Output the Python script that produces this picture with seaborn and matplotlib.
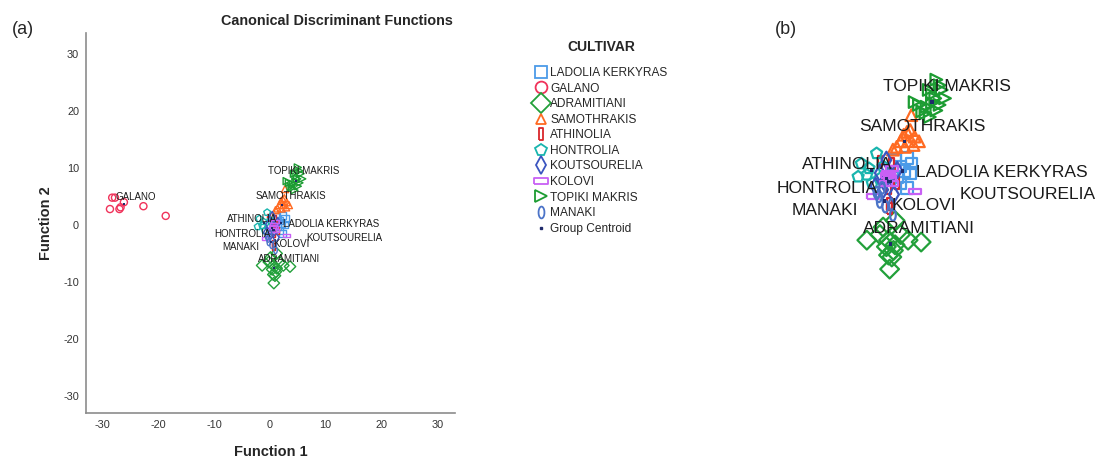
import numpy as np
import matplotlib
matplotlib.use("Agg")
import matplotlib.pyplot as plt
import seaborn as sns
from matplotlib.lines import Line2D

sns.set_style("white")
plt.rcParams['font.family'] = ['Liberation Sans', 'DejaVu Sans']
plt.rcParams['axes.unicode_minus'] = False

# ---- data (Function 1, Function 2) ----
cultivars = ['LADOLIA KERKYRAS', 'GALANO', 'ADRAMITIANI', 'SAMOTHRAKIS', 'ATHINOLIA',
             'HONTROLIA', 'KOUTSOURELIA', 'KOLOVI', 'TOPIKI MAKRIS', 'MANAKI']

ladolia_x = [2.3, 2.7, 1.7, 2.6, 1.35, 1.7, 2.3, 1.2, 2.0]
ladolia_y = [1.7, 1.1, 0.8, 0.1, -0.3, -1.0, -1.5, 1.5, 0.3]
galano_x = [-28.7, -28.3, -27.8, -26.8, -26.2, -27.0, -22.7, -18.7]
galano_y = [2.8, 4.8, 4.8, 3.1, 4.0, 2.8, 3.3, 1.6]
adramitiani_x = [1.2, 0.1, -1.4, 0.6, 2.4, 3.6, 0.4, 1.05, 0.6, 1.2, 0.7, -0.2, 1.7, 0.9]
adramitiani_y = [-5.0, -5.7, -7.1, -7.1, -7.1, -7.3, -7.8, -8.2, -8.7, -7.6, -10.2, -6.5, -6.5, -8.9]
samothrakis_x = [2.7, 2.6, 2.0, 3.0, 1.7, 2.4, 3.4, 1.35, 2.1, 2.9, 1.0, 2.3]
samothrakis_y = [6.3, 4.7, 4.2, 4.0, 3.5, 3.5, 3.5, 2.9, 2.9, 3.1, 2.6, 4.5]
athinolia_x = [0.9, 1.35, 0.6, 0.3, 0.7, 0.7, -0.2, 1.0]
athinolia_y = [1.1, -1.0, -1.5, -0.5, -3.2, -3.7, 1.3, 0.2]
hontrolia_x = [-0.5, -1.9, -2.2, -1.4, -0.9, 0.1, -0.2, -1.2]
hontrolia_y = [2.2, 1.1, -0.3, -0.1, -1.0, 0.8, -0.5, 0.6]
koutsourelia_x = [-0.2, 0.4, 0.1, 1.4, 0.8, 1.1, 0.2, -0.6]
koutsourelia_y = [0.1, 1.5, -1.7, 0.4, -0.2, -2.2, -0.9, -1.3]
kolovi_x = [3.0, -0.8, 0.6, 0.7, 0.4, 0.9, 0.9, 0.5]
kolovi_y = [-1.9, -2.4, 0.1, -0.5, -1.0, 0.6, -1.0, -0.2]
topiki_x = [5.0, 5.3, 4.3, 4.6, 4.9, 5.8, 3.0, 3.4, 4.1, 4.6, 5.3, 5.0, 4.0, 4.4, 5.5, 3.7]
topiki_y = [10.1, 9.5, 9.0, 8.5, 8.1, 8.1, 7.7, 7.4, 7.2, 7.6, 7.4, 6.8, 6.5, 6.1, 9.0, 6.7]
manaki_x = [-0.2, 0.3, 0.9, -0.3, 1.0, 0.0, -0.5]
manaki_y = [-3.0, -3.5, -3.3, -2.4, -4.4, -1.5, -2.0]

xs = [ladolia_x, galano_x, adramitiani_x, samothrakis_x, athinolia_x,
      hontrolia_x, koutsourelia_x, kolovi_x, topiki_x, manaki_x]
ys = [ladolia_y, galano_y, adramitiani_y, samothrakis_y, athinolia_y,
      hontrolia_y, koutsourelia_y, kolovi_y, topiki_y, manaki_y]

centroid_x = [1.9, -26.1, 0.8, 2.1, 0.6, -1.0, 0.4, 0.8, 4.6, 0.2]
centroid_y = [0.3, 3.7, -7.5, 3.5, -0.8, 0.4, -0.5, -0.8, 7.7, -2.9]

# group label positions (text centre)
label_names = ['TOPIKI MAKRIS', 'SAMOTHRAKIS', 'ATHINOLIA', 'LADOLIA KERKYRAS', 'HONTROLIA',
               'KOUTSOURELIA', 'MANAKI', 'KOLOVI', 'ADRAMITIANI', 'GALANO']
label_x = [6.0, 3.7, -3.2, 11.0, -5.0, 13.4, -5.3, 3.9, 3.4, -24.1]
label_y = [9.4, 5.1, 1.05, 0.2, -1.6, -2.2, -3.9, -3.4, -5.9, 4.9]

# ---- styles ----
colors = ['#4C9BE8', '#F0325A', '#22A03A', '#FF6A22', '#D9262B',
          '#19B5AE', '#3B55C0', '#C860F5', '#1C9C32', '#4C74C8']
t = np.linspace(0, 2 * np.pi, 40)
tall_rect = [(-0.4, -1), (0.4, -1), (0.4, 1), (-0.4, 1), (-0.4, -1)]
wide_rect = [(-1, -0.4), (1, -0.4), (1, 0.4), (-1, 0.4), (-1, -0.4)]
ellipse = list(zip(0.5 * np.cos(t), np.sin(t)))
markers = ['s', 'o', 'D', '^', tall_rect, 'p', 'd', wide_rect, '>', ellipse]
size_scale = [1.0, 1.0, 1.3, 1.0, 1.0, 1.0, 1.0, 1.1, 1.0, 1.0]

W, H = 1099, 459
fig = plt.figure(figsize=(W / 100, H / 100), dpi=100)


def draw(ax, base_s, lw, fs, clip):
    for i, name in enumerate(cultivars):
        sns.scatterplot(x=xs[i], y=ys[i], marker=markers[i], s=base_s * size_scale[i],
                        facecolor='none', edgecolor=colors[i], linewidth=lw,
                        ax=ax, legend=False, zorder=2)
    sns.scatterplot(x=centroid_x, y=centroid_y, marker='s', s=base_s * 0.08,
                    color='#1F2A6B', edgecolor='none', ax=ax, legend=False, zorder=3)
    for name, lx, ly in zip(label_names, label_x, label_y):
        ax.text(lx, ly, name, fontsize=fs, ha='center', va='center',
                color='#1A1A1A', zorder=4, clip_on=clip)


# ---- panel (a) ----
ax = fig.add_axes([86 / W, 1 - 413 / H, 369 / W, 380 / H])
draw(ax, 26, 1.0, 7, False)
ax.set_xlim(-33.0, 33.2)
ax.set_ylim(-33.0, 33.7)
ax.set_xticks(range(-30, 31, 10))
ax.set_yticks(range(-30, 31, 10))
ax.tick_params(length=0, labelsize=7.8, colors='#333333', pad=5)
for side in ['top', 'right']:
    ax.spines[side].set_visible(False)
for side in ['left', 'bottom']:
    ax.spines[side].set_color('#8C8C8C')
    ax.spines[side].set_linewidth(1.2)
ax.set_xlabel('Function 1', fontsize=10.5, fontweight='bold', va='center')
ax.set_ylabel('Function 2', fontsize=10.5, fontweight='bold', va='center')
ax.xaxis.set_label_coords(0.5, -0.103)
ax.yaxis.set_label_coords(-0.108, 0.5)

fig.text(337 / W, 1 - 21 / H, 'Canonical Discriminant Functions', fontsize=10.4,
         fontweight='bold', ha='center', va='center')
fig.text(23 / W, 1 - 30 / H, '(a)', fontsize=13, ha='center', va='center')
fig.text(786 / W, 1 - 30 / H, '(b)', fontsize=13, ha='center', va='center')

# ---- legend ----
fig.text(601 / W, 1 - 47 / H, 'CULTIVAR', fontsize=10, fontweight='bold',
         ha='center', va='center')
handles = []
leg_ms = [8.5, 8.5, 10, 7.5, 8.5, 8.5, 9, 9.5, 8.5, 8.5]
for i, name in enumerate(cultivars):
    handles.append(Line2D([], [], marker=markers[i], ls='none', mfc='none',
                          mec=colors[i], mew=1.3, ms=leg_ms[i], label=name))
handles.append(Line2D([], [], marker='s', ls='none', color='#1F2A6B', ms=1.6,
                      label='Group Centroid'))
fig.legend(handles=handles, loc='upper left', bbox_to_anchor=(527 / W, 1 - 61 / H),
           frameon=False, fontsize=8.6,
           handletextpad=0.15, handlelength=1.3, labelspacing=0.3, borderpad=0)

# ---- panel (b): enlarged centre ----
axb = fig.add_axes([768 / W, 1 - 290 / H, 332 / W, 230 / H])
draw(axb, 70, 1.6, 12.5, True)
axb.set_xlim(-10.5, 20.07)
axb.set_ylim(-12.44, 12.21)
axb.axis('off')

fig.savefig('out.png', dpi=100)
